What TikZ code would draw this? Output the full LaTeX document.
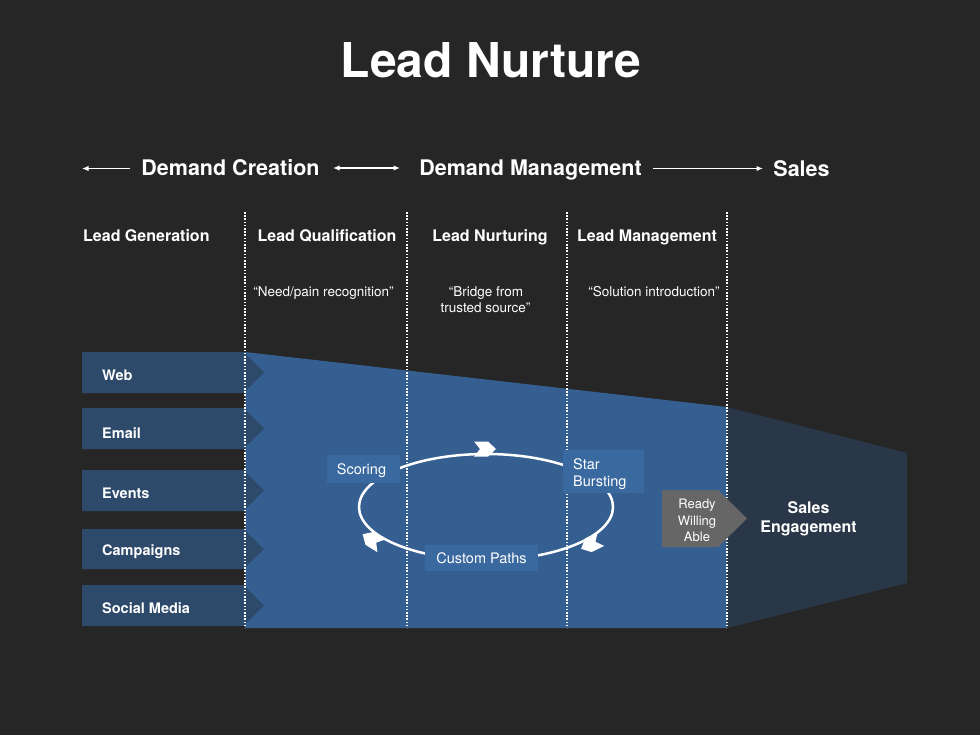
\documentclass[tikz,border=0pt]{standalone}
\usepackage{fontspec}
\setmainfont{TeX Gyre Heros}
\usetikzlibrary{arrows.meta}
\definecolor{bgc}{HTML}{262626}
\definecolor{funnelc}{HTML}{365F91}
\definecolor{chevc}{HTML}{2E4A6A}
\definecolor{salesc}{HTML}{293748}
\definecolor{lblc}{HTML}{3A69A0}
\definecolor{rwac}{HTML}{666666}
\begin{document}
\begin{tikzpicture}[x=1pt,y=-1pt,
  txt/.style={text=white, inner sep=0pt, anchor=base},
  titlef/.style={txt, font=\fontsize{48}{56}\selectfont\bfseries},
  hdr/.style={txt, font=\fontsize{21.5}{26}\selectfont\bfseries},
  colh/.style={txt, font=\fontsize{16}{19}\selectfont\bfseries},
  quote/.style={txt, font=\fontsize{13.5}{16}\selectfont},
  chevt/.style={txt, anchor=base west, font=\fontsize{14.5}{17}\selectfont\bfseries},
  lblt/.style={txt, font=\fontsize{14.5}{17}\selectfont},
  rwat/.style={txt, font=\fontsize{13}{16}\selectfont},
  harrow/.style={white, line width=1.5pt, -{Latex[length=6.5pt,width=5.5pt]}},
  hdarrow/.style={white, line width=1.5pt, {Latex[length=6.5pt,width=5.5pt]}-{Latex[length=6.5pt,width=5.5pt]}},
  divider/.style={white, line width=1.6pt, dash pattern=on 1.6pt off 1.6pt},
  lblbox/.style={fill=lblc, draw=none, inner sep=0pt},
  cyc/.pic={\fill[white] (-11,-7.5) -- (3,-7.5) -- (11,0) -- (3,7.5) -- (-11,7.5) -- (-5,0) -- cycle;}
]
\fill[bgc] (0,0) rectangle (980,735);
\useasboundingbox (0,0) rectangle (980,735);

% title
\node[titlef] (title) at (491,78) {Lead Nurture};

% stage headers
\node[hdr] (dc) at (230.5,176) {Demand Creation};
\node[hdr] (dm) at (530.5,176) {Demand Management};
\node[hdr] (sales) at (801.5,177) {Sales};
\coordinate (a1s) at (130,168.5);
\coordinate (a1e) at (82,168.5);
\coordinate (a2s) at (333,168);
\coordinate (a2e) at (400,168);
\coordinate (a3s) at (653,168.5);
\coordinate (a3e) at (763,168.5);
\draw[harrow] (a1s) -- (a1e);
\draw[hdarrow] (a2s) -- (a2e);
\draw[harrow] (a3s) -- (a3e);

% column headings
\node[colh, anchor=base west] (lg) at (83,242) {Lead Generation};
\node[colh] (lq) at (327,242) {Lead Qualification};
\node[colh] (ln) at (490,242) {Lead Nurturing};
\node[colh] (lm) at (647,242) {Lead Management};

% quotes
\node[quote] (q1) at (323.5,297) {“Need/pain recognition”};
\node[quote] (q2a) at (486,297) {“Bridge from};
\node[quote] (q2b) at (485.5,313) {trusted source”};
\node[quote] (q3) at (654,297) {“Solution introduction”};

% funnels
\fill[funnelc] (245,352) -- (727,407) -- (727,628) -- (245,628) -- cycle;
\fill[salesc] (727,407) -- (907,453) -- (907,583) -- (727,628) -- cycle;

% source chevrons
\foreach \t/\b/\lbl/\nm/\base in {352/393/Web/web/380, 408/449/Email/email/438.5, 470/511/Events/events/498, 529/569/Campaigns/camp/555, 585/626/Social Media/social/613}{
  \fill[chevc] (82,\t) -- (243.5,\t) -- (264,{(\t+\b)/2}) -- (243.5,\b) -- (82,\b) -- cycle;
  \node[chevt] (\nm) at (102,\base) {\lbl};
}

% dividers
\foreach \x/\nm in {245/d1, 407/d2, 567/d3, 727/d4}{
  \coordinate (\nm t) at (\x,212);
  \coordinate (\nm b) at (\x,628);
  \draw[divider] (\nm t) -- (\nm b);
}

% cycle
\draw[white, line width=2.5pt] (486,507) ellipse [x radius=127, y radius=53];
\node[lblbox, minimum width=73pt, minimum height=28pt] (scoringbox) at (363.5,469) {};
\node[lblt] (scoring) at (361.5,474) {Scoring};
\node[lblbox, minimum width=81pt, minimum height=43pt] (starbox) at (603.5,471.5) {};
\node[lblt, anchor=base west] (star1) at (573,469) {Star};
\node[lblt, anchor=base west] (star2) at (573,486) {Bursting};
\node[lblbox, minimum width=113pt, minimum height=26pt] (custombox) at (481.5,558) {};
\node[lblt] (custom) at (481.5,563) {Custom Paths};
\pic[rotate=0] at (485,449) {cyc};
\pic[rotate=206] at (591,544) {cyc};
\pic[rotate=148] at (372,540) {cyc};

% ready willing able
\fill[rwac] (662,490) -- (718,490) -- (747,518.5) -- (718,547) -- (662,547) -- cycle;
\node[rwat] (ready) at (697,508) {Ready};
\node[rwat] (willing) at (697,525) {Willing};
\node[rwat] (able) at (697,541) {Able};

% sales engagement
\node[colh] (se1) at (808.5,513) {Sales};
\node[colh] (se2) at (808.5,532) {Engagement};
\end{tikzpicture}
\end{document}
